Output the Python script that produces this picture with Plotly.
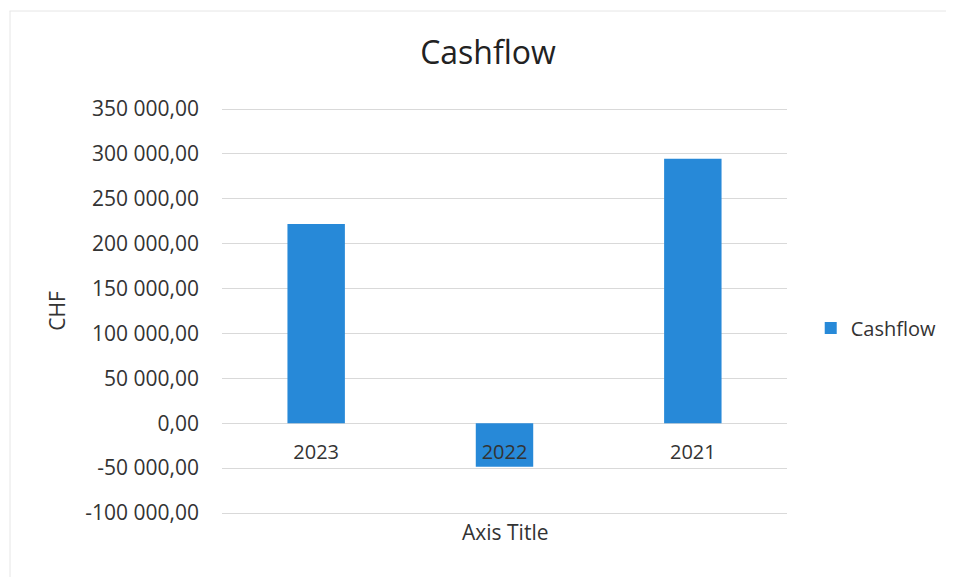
import plotly.graph_objects as go

years = ["2023", "2022", "2021"]
cashflow = [222000, -48500, 294500]
y_ticks = [-100000, -50000, 0, 50000, 100000, 150000, 200000, 250000, 300000, 350000]
y_min, y_max = -100000, 350000


def fmt(v):
    s = f"{abs(v):,.2f}".replace(",", " ").replace(".", ",")
    return ("-" if v < 0 else "") + s


y_tick_text = [fmt(v) for v in y_ticks]

font_family = "Open Sans"
text_color = "#333333"
grid_color = "#d9d9d9"
bar_color = "#2789d8"

# page body has an 8px margin; figure is sized to fit the 954x577 window
W, H = 946, 569
extra = 3  # px of plot area beyond the outer gridlines, so they are drawn
L, R, T, B = 214, 163, 101 - extra, 64 - extra
pw, ph = W - L - R, H - T - B
pad = extra * (y_max - y_min) / (ph - 2 * extra)

fig = go.Figure()
fig.add_trace(go.Bar(
    x=years, y=cashflow, name="Cashflow",
    marker=dict(color=bar_color, line=dict(width=0)),
    showlegend=True,
))

zero_pos = (0 - (y_min - pad)) / ((y_max + pad) - (y_min - pad))


def py(px_from_top):
    return (T + ph - px_from_top) / ph


fig.update_layout(
    width=W, height=H,
    margin=dict(l=L, r=R, t=T, b=B, pad=0),
    paper_bgcolor="white", plot_bgcolor="white",
    font=dict(family=font_family, color=text_color, size=21),
    bargap=0.695,
    title=dict(text="Cashflow", x=480 / W, xref="container", y=1 - 45 / H,
               yref="container", xanchor="center", yanchor="middle",
               font=dict(size=32, color="#222222")),
    xaxis=dict(type="category", anchor="free", position=zero_pos,
               showline=False, showgrid=False, ticks="", zeroline=False,
               tickfont=dict(size=20), ticklabelstandoff=15),
    yaxis=dict(range=[y_min - pad, y_max + pad], tickvals=y_ticks,
               ticktext=y_tick_text,
               showgrid=True, gridcolor=grid_color, gridwidth=1,
               zeroline=True, zerolinecolor=grid_color, zerolinewidth=1,
               showline=False, ticks="", ticklabelstandoff=22,
               tickfont=dict(size=21),
               title=dict(text="CHF", standoff=13, font=dict(size=21))),
    legend=dict(x=1.042, xanchor="left", y=py(320), yanchor="middle",
                font=dict(size=20), bgcolor="rgba(0,0,0,0)"),
    annotations=[dict(text="Axis Title", xref="paper", yref="paper",
                      x=0.5, y=py(524), xanchor="center", yanchor="middle",
                      showarrow=False, font=dict(size=21))],
    shapes=[
        dict(type="line", xref="paper", yref="paper",
             x0=(0 - L) / pw, x1=(W - L) / pw,
             y0=py(3), y1=py(3),
             line=dict(color="#e6e6e6", width=1)),
        dict(type="line", xref="paper", yref="paper",
             x0=(0.5 - L) / pw, x1=(0.5 - L) / pw,
             y0=py(3), y1=py(H),
             line=dict(color="#e6e6e6", width=1)),
    ],
)

fig.write_html("out.html")
